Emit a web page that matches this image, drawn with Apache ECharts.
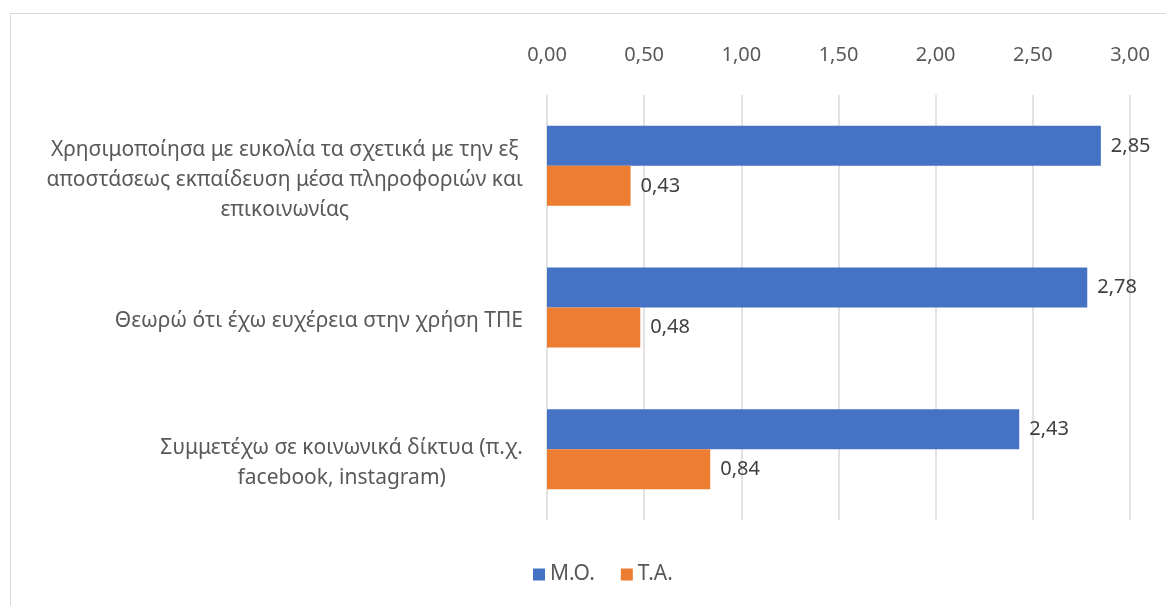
<!DOCTYPE html>
<html>
<head>
<meta charset="utf-8">
<script src="https://cdn.jsdelivr.net/npm/echarts@6/dist/echarts.min.js"></script>
<style>
  html, body { margin: 0; padding: 0; background: #fff; }
  #chart { width: 1166px; height: 606px; }
  #frame { position: absolute; left: 10px; top: 13px; width: 1200px; height: 700px;
           border: 1.5px solid #d9d9d9; pointer-events: none; }
</style>
</head>
<body>
<div id="chart"></div>
<div id="frame"></div>
<script>
// data
const categories = [
  'Χρησιμοποίησα με ευκολία τα σχετικά με την εξ\nαποστάσεως εκπαίδευση μέσα πληροφοριών και\nεπικοινωνίας',
  'Θεωρώ ότι έχω ευχέρεια στην χρήση ΤΠΕ',
  'Συμμετέχω σε κοινωνικά δίκτυα (π.χ.\nfacebook, instagram)'
]
const seriesNames = ['Μ.Ο.', 'Τ.Α.']
const meanValues = [2.85, 2.78, 2.43]
const sdValues = [0.43, 0.48, 0.84]

const fmt = v => Number(v).toFixed(2).replace('.', ',')
const FONT = '"Noto Sans", sans-serif'

const chart = echarts.init(document.getElementById('chart'))

chart.setOption({
  animation: false,
  textStyle: { fontFamily: FONT },
  legend: {
    data: seriesNames,
    bottom: 16,
    left: 528,
    itemWidth: 12,
    itemHeight: 12,
    itemGap: 26,
    icon: 'rect',
    textStyle: { fontSize: 21, color: '#595959', fontFamily: FONT }
  },
  grid: {
    top: 95,
    bottom: 86,
    left: 547,
    right: 36
  },
  xAxis: {
    type: 'value',
    position: 'top',
    min: 0,
    max: 3,
    interval: 0.5,
    axisLine: { show: false },
    axisTick: { show: false },
    splitLine: { lineStyle: { color: '#d9d9d9', width: 1.5 } },
    axisLabel: {
      formatter: v => fmt(v),
      fontSize: 20,
      color: '#595959',
      margin: 30,
      fontFamily: FONT
    }
  },
  yAxis: {
    type: 'category',
    inverse: true,
    data: categories,
    axisLine: { show: false },
    axisTick: { show: false },
    axisLabel: {
      margin: 24,
      lineHeight: 30,
      padding: [28, 0, 0, 0],
      formatter: v => v.split('\n').map(l => '{c|' + l + '}').join('\n'),
      rich: {
        c: { align: 'center', fontSize: 21, color: '#595959', fontFamily: FONT, lineHeight: 30 }
      }
    }
  },
  series: [{
    name: seriesNames[0],
    type: 'bar',
    data: meanValues,
    barWidth: 40,
    barGap: '0%',
    itemStyle: { color: '#4472C4' },
    label: {
      show: true,
      position: 'right',
      distance: 10,
      formatter: p => fmt(p.value),
      fontSize: 20,
      color: '#404040',
      fontFamily: FONT
    }
  }, {
    name: seriesNames[1],
    type: 'bar',
    data: sdValues,
    barWidth: 40,
    barGap: '0%',
    itemStyle: { color: '#ED7D31' },
    label: {
      show: true,
      position: 'right',
      distance: 10,
      formatter: p => fmt(p.value),
      fontSize: 20,
      color: '#404040',
      fontFamily: FONT
    }
  }]
})
</script>
</body>
</html>
